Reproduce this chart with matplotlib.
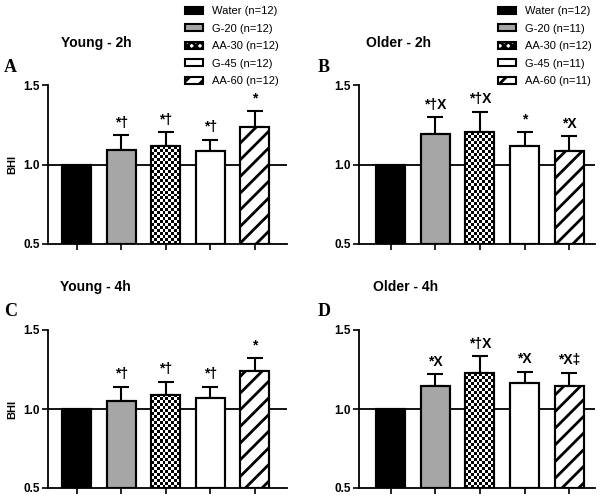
import numpy as np
import matplotlib
matplotlib.use("Agg")
import matplotlib.pyplot as plt
from matplotlib.patches import Patch

plt.rcParams["font.family"] = ["Liberation Sans", "DejaVu Sans"]
plt.rcParams["hatch.linewidth"] = 2.0

groups = ["Water", "G-20", "AA-30", "G-45", "AA-60"]
n_young = [12, 12, 12, 12, 12]
n_older = [12, 11, 12, 11, 11]

# mean BHI and upper SD
young_2h = [1.0, 1.091, 1.116, 1.085, 1.236]
young_2h_err = [0.0, 0.093, 0.087, 0.069, 0.099]
older_2h = [1.0, 1.194, 1.203, 1.118, 1.087]
older_2h_err = [0.0, 0.103, 0.129, 0.089, 0.090]
young_4h = [1.0, 1.053, 1.091, 1.072, 1.242]
young_4h_err = [0.0, 0.088, 0.080, 0.069, 0.081]
older_4h = [1.0, 1.146, 1.226, 1.167, 1.148]
older_4h_err = [0.0, 0.073, 0.109, 0.067, 0.080]

young_2h_sig = ["", "*\u2020", "*\u2020", "*\u2020", "*"]
older_2h_sig = ["", "*\u2020X", "*\u2020X", "*", "*X"]
young_4h_sig = ["", "*\u2020", "*\u2020", "*\u2020", "*"]
older_4h_sig = ["", "*X", "*\u2020X", "*X", "*X\u2021"]

facecolors = ["black", "#a6a6a6", "white", "white", "white"]
hatches = [None, None, None, None, "//"]

W, H = 605, 499
fig = plt.figure(figsize=(W / 100, H / 100), dpi=100)


def px_axes(left, right, top, bottom):
    return fig.add_axes([left / W, 1 - bottom / H, (right - left) / W, (bottom - top) / H])


def checker(ax, bar, top):
    # checkerboard fill clipped to the bar
    x0 = bar.get_x()
    x1 = x0 + bar.get_width()
    h_px = (top - 0.5) * 159
    ny = max(int(round(h_px / 3.0)), 1)
    nx = 10
    pat = (np.indices((ny, nx)).sum(axis=0) % 2).astype(float)
    im = ax.imshow(pat, cmap="gray", extent=[x0, x1, 0.5, top], aspect="auto",
                   interpolation="nearest", zorder=2.5, origin="lower")
    im.set_clip_path(bar)


def panel(ax, vals, errs, sigs, xlim, ylabel):
    x = np.arange(len(vals))
    bars = ax.bar(x, np.array(vals) - 0.5, bottom=0.5, width=0.65,
                  color=facecolors, edgecolor="black", linewidth=1.5, zorder=2)
    for b, h in zip(bars, hatches):
        if h:
            b.set_hatch(h)
    checker(ax, bars[2], vals[2])
    ax.bar(x, np.array(vals) - 0.5, bottom=0.5, width=0.65, fill=False,
           edgecolor="black", linewidth=1.5, zorder=3)
    ax.errorbar(x[1:], vals[1:], yerr=[np.zeros(len(vals) - 1), errs[1:]],
                fmt="none", ecolor="black", elinewidth=1.5, capsize=5.5,
                capthick=1.5, zorder=1.5)
    for xi, v, e, s in zip(x, vals, errs, sigs):
        if s:
            ax.annotate(s, (xi, v + e), xytext=(0, 4), textcoords="offset points",
                        ha="center", va="bottom", fontsize=10, fontweight="bold")
    ax.axhline(1.0, color="black", linewidth=1.3, zorder=1)
    ax.set_xlim(*xlim)
    ax.set_ylim(0.5, 1.5)
    ax.set_yticks([0.5, 1.0, 1.5])
    ax.set_yticklabels(["0.5", "1.0", "1.5"], fontsize=8.5, fontweight="bold")
    ax.set_xticks(x)
    ax.set_xticklabels([])
    ax.tick_params(length=4, width=1.2, pad=2)
    for s in ["top", "right"]:
        ax.spines[s].set_visible(False)
    for s in ["left", "bottom"]:
        ax.spines[s].set_linewidth(1.3)
    if ylabel:
        ax.set_ylabel("BHI", fontsize=8, fontweight="bold", labelpad=4)
    return bars


axA = px_axes(48, 287, 85, 244)
axB = px_axes(359, 595, 85, 244)
axC = px_axes(48, 287, 330, 488)
axD = px_axes(359, 595, 330, 488)

panel(axA, young_2h, young_2h_err, young_2h_sig, (-0.65, 4.72), True)
panel(axB, older_2h, older_2h_err, older_2h_sig, (-0.71, 4.58), False)
panel(axC, young_4h, young_4h_err, young_4h_sig, (-0.65, 4.72), True)
panel(axD, older_4h, older_4h_err, older_4h_sig, (-0.71, 4.58), False)

# titles and panel letters
for txt, cx, cy in [("Young - 2h", 96, 43), ("Older - 2h", 399, 43),
                    ("Young - 4h", 95, 287), ("Older - 4h", 406, 287)]:
    fig.text(cx / W, 1 - cy / H, txt, ha="center", va="center",
             fontsize=10, fontweight="bold")
for txt, lx, cy in [("A", 4, 67), ("B", 318, 67), ("C", 4, 311), ("D", 318, 311)]:
    fig.text(lx / W, 1 - cy / H, txt, ha="left", va="center", fontsize=13,
             fontweight="bold", family="Liberation Serif")


def legend_handles():
    hs = []
    for i in range(5):
        fc = facecolors[i]
        hatch = hatches[i]
        if i == 2:
            fc, hatch = "white", "xxxx"
        hs.append(Patch(facecolor=fc, edgecolor="black", hatch=hatch, linewidth=1.5))
    return hs


for ns, lx in [(n_young, 185), (n_older, 498)]:
    labels = ["%s (n=%d)" % (g, n) for g, n in zip(groups, ns)]
    fig.legend(legend_handles(), labels, loc="upper left",
               bbox_to_anchor=(lx / W, 1 - 6 / H), frameon=False, fontsize=8,
               handlelength=1.6, handleheight=0.6, handletextpad=0.8,
               labelspacing=0.68, borderpad=0, borderaxespad=0)

fig.savefig("out.png", dpi=100)
